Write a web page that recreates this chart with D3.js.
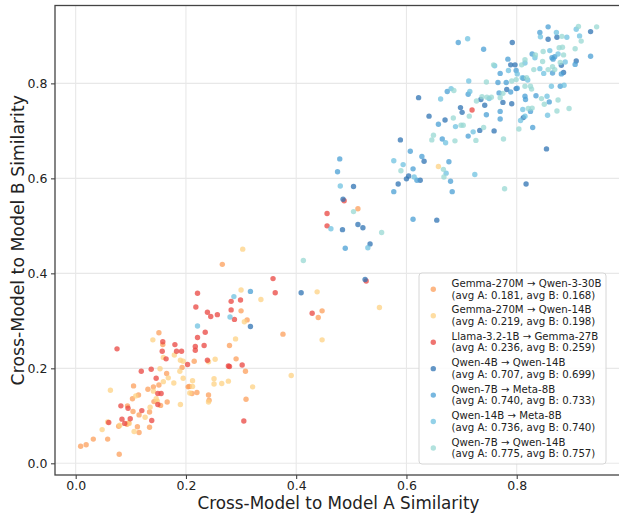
<!DOCTYPE html>
<html>
<head>
<meta charset="utf-8">
<script src="https://cdn.jsdelivr.net/npm/d3@7"></script>
<style>
  html, body { margin: 0; padding: 0; background: #fff; }
  svg { display: block; font-family: "DejaVu Sans", sans-serif; }
</style>
</head>
<body>
<div id="chart"></div>
<script>
// series names (legend text, two lines each)
const seriesNames = [
  "Gemma-270M \u2192 Qwen-3-30B",
  "Gemma-270M \u2192 Qwen-14B",
  "Llama-3.2-1B \u2192 Gemma-27B",
  "Qwen-4B \u2192 Qwen-14B",
  "Qwen-7B \u2192 Meta-8B",
  "Qwen-14B \u2192 Meta-8B",
  "Qwen-7B \u2192 Qwen-14B"
];
const seriesAvgs = [
  "(avg A: 0.181, avg B: 0.168)",
  "(avg A: 0.219, avg B: 0.198)",
  "(avg A: 0.236, avg B: 0.259)",
  "(avg A: 0.707, avg B: 0.699)",
  "(avg A: 0.740, avg B: 0.733)",
  "(avg A: 0.736, avg B: 0.740)",
  "(avg A: 0.775, avg B: 0.757)"
];
const seriesColors = ["#fc9f5b", "#fed283", "#ea4640", "#2f73b3", "#4a9fd4", "#6fc2e0", "#98d8d3"];

const xTicks = [0.0, 0.2, 0.4, 0.6, 0.8];
const yTicks = [0.0, 0.2, 0.4, 0.6, 0.8];

// [A similarity, B similarity]
const gemmaQwen30 = [
  [0.151,0.275],[0.158,0.250],[0.215,0.215],[0.193,0.202],[0.165,0.189],[0.105,0.163],
  [0.141,0.161],[0.151,0.165],[0.131,0.156],[0.204,0.161],[0.211,0.147],[0.220,0.149],
  [0.241,0.144],[0.242,0.133],[0.114,0.144],[0.103,0.136],[0.142,0.130],[0.166,0.129],
  [0.154,0.122],[0.094,0.121],[0.104,0.109],[0.115,0.102],[0.134,0.108],[0.096,0.085],
  [0.078,0.078],[0.112,0.077],[0.134,0.076],[0.115,0.065],[0.032,0.051],[0.058,0.051],
  [0.019,0.039],[0.009,0.036],[0.079,0.019],[0.266,0.419],[0.300,0.321],[0.311,0.302],
  [0.447,0.321],[0.440,0.307],[0.376,0.272],[0.279,0.248],[0.291,0.220],[0.308,0.194],
  [0.206,0.162],[0.309,0.135],[0.512,0.536],[0.093,0.082]
];
const gemmaQwen14 = [
  [0.140,0.260],[0.179,0.228],[0.159,0.223],[0.190,0.217],[0.195,0.215],[0.241,0.214],
  [0.253,0.219],[0.153,0.199],[0.189,0.194],[0.168,0.180],[0.159,0.172],[0.178,0.169],
  [0.195,0.179],[0.212,0.174],[0.251,0.178],[0.251,0.167],[0.265,0.168],[0.277,0.173],
  [0.141,0.152],[0.212,0.162],[0.207,0.148],[0.241,0.129],[0.063,0.154],[0.109,0.142],
  [0.146,0.136],[0.148,0.131],[0.190,0.124],[0.135,0.118],[0.126,0.097],[0.058,0.087],
  [0.097,0.084],[0.080,0.080],[0.048,0.071],[0.106,0.067],[0.303,0.451],[0.300,0.365],
  [0.336,0.345],[0.438,0.361],[0.551,0.328],[0.306,0.298],[0.447,0.260],[0.290,0.262],
  [0.391,0.185],[0.321,0.161],[0.658,0.625]
];
const llamaGemma27 = [
  [0.218,0.329],[0.239,0.318],[0.245,0.309],[0.257,0.313],[0.235,0.276],[0.158,0.256],
  [0.180,0.250],[0.221,0.265],[0.233,0.248],[0.075,0.241],[0.157,0.236],[0.183,0.236],
  [0.192,0.236],[0.217,0.238],[0.164,0.220],[0.203,0.208],[0.239,0.217],[0.277,0.205],
  [0.119,0.194],[0.137,0.198],[0.146,0.179],[0.149,0.147],[0.155,0.147],[0.149,0.124],
  [0.082,0.121],[0.095,0.116],[0.120,0.111],[0.084,0.093],[0.099,0.094],[0.138,0.090],
  [0.060,0.086],[0.089,0.084],[0.358,0.389],[0.362,0.359],[0.221,0.358],[0.282,0.341],
  [0.299,0.344],[0.527,0.384],[0.282,0.323],[0.288,0.303],[0.429,0.316],[0.279,0.204],
  [0.302,0.207],[0.305,0.089],[0.487,0.553],[0.456,0.526],[0.456,0.500],[0.719,0.744],
  [0.217,0.246]
];
const qwen4Qwen14 = [
  [0.317,0.288],[0.409,0.359],[0.525,0.387],[0.534,0.462],[0.655,0.512],[0.484,0.492],
  [0.512,0.503],[0.521,0.496],[0.485,0.556],[0.504,0.583],[0.585,0.588],[0.604,0.605],
  [0.600,0.599],[0.625,0.596],[0.817,0.588],[0.589,0.681],[0.632,0.636],[0.622,0.770],
  [0.641,0.731],[0.670,0.723],[0.698,0.749],[0.701,0.739],[0.733,0.701],[0.759,0.700],
  [0.742,0.754],[0.735,0.766],[0.775,0.760],[0.791,0.757],[0.782,0.787],[0.792,0.886],
  [0.857,0.893],[0.873,0.897],[0.934,0.909],[0.908,0.847],[0.789,0.839],[0.797,0.839],
  [0.881,0.838],[0.885,0.823],[0.812,0.811],[0.799,0.789],[0.812,0.728],[0.854,0.662]
];
const qwen7Meta8 = [
  [0.317,0.362],[0.489,0.453],[0.612,0.514],[0.475,0.614],[0.479,0.641],[0.577,0.572],
  [0.612,0.620],[0.619,0.596],[0.677,0.635],[0.680,0.594],[0.683,0.572],[0.607,0.657],
  [0.628,0.646],[0.658,0.714],[0.665,0.683],[0.712,0.689],[0.745,0.734],[0.770,0.741],
  [0.770,0.725],[0.768,0.780],[0.789,0.782],[0.801,0.790],[0.712,0.777],[0.674,0.783],
  [0.694,0.886],[0.740,0.872],[0.857,0.919],[0.842,0.907],[0.869,0.856],[0.864,0.854],
  [0.866,0.851],[0.934,0.857],[0.906,0.840],[0.828,0.862],[0.784,0.851],[0.799,0.827],
  [0.770,0.821],[0.881,0.820],[0.865,0.822],[0.781,0.802],[0.766,0.802],[0.815,0.773],
  [0.816,0.766],[0.835,0.774],[0.879,0.794],[0.859,0.761],[0.825,0.741],[0.829,0.707]
];
const qwen14Meta8 = [
  [0.221,0.289],[0.280,0.308],[0.287,0.351],[0.530,0.454],[0.463,0.494],[0.480,0.584],
  [0.577,0.637],[0.594,0.629],[0.614,0.603],[0.672,0.611],[0.724,0.608],[0.671,0.675],
  [0.662,0.767],[0.689,0.709],[0.721,0.698],[0.750,0.768],[0.715,0.783],[0.681,0.789],
  [0.711,0.894],[0.843,0.898],[0.872,0.907],[0.891,0.897],[0.908,0.914],[0.914,0.900],
  [0.860,0.869],[0.875,0.862],[0.888,0.845],[0.833,0.854],[0.815,0.843],[0.760,0.837],
  [0.801,0.820],[0.785,0.827],[0.842,0.831],[0.849,0.821],[0.810,0.812],[0.820,0.807],
  [0.713,0.805],[0.855,0.773],[0.863,0.794],[0.886,0.796],[0.856,0.733],[0.811,0.745],
  [0.815,0.731],[0.807,0.722]
];
const qwen7Qwen14 = [
  [0.413,0.427],[0.555,0.486],[0.504,0.530],[0.590,0.616],[0.667,0.619],[0.668,0.603],
  [0.778,0.578],[0.649,0.691],[0.646,0.681],[0.688,0.679],[0.685,0.727],[0.714,0.731],
  [0.699,0.712],[0.703,0.712],[0.726,0.680],[0.740,0.707],[0.776,0.683],[0.737,0.772],
  [0.727,0.763],[0.746,0.771],[0.754,0.771],[0.770,0.770],[0.775,0.779],[0.686,0.785],
  [0.882,0.899],[0.912,0.920],[0.945,0.919],[0.917,0.889],[0.877,0.875],[0.883,0.876],
  [0.906,0.873],[0.848,0.867],[0.885,0.860],[0.879,0.844],[0.834,0.860],[0.847,0.846],
  [0.815,0.850],[0.809,0.839],[0.758,0.839],[0.831,0.829],[0.857,0.829],[0.865,0.835],
  [0.869,0.829],[0.818,0.812],[0.799,0.808],[0.791,0.805],[0.745,0.803],[0.815,0.794],
  [0.825,0.794],[0.827,0.788],[0.845,0.768],[0.850,0.756],[0.875,0.765],[0.895,0.747],
  [0.873,0.742],[0.821,0.747],[0.828,0.748],[0.804,0.704]
];
const seriesPoints = [gemmaQwen30, gemmaQwen14, llamaGemma27, qwen4Qwen14, qwen7Meta8, qwen14Meta8, qwen7Qwen14];

// layout
const W = 619, H = 513;
const plot = { left: 55, right: 622, top: 5.5, bottom: 475 };

const svg = d3.select("#chart").append("svg")
  .attr("width", W)
  .attr("height", H);

const x = d3.scaleLinear().domain([-0.0375, 0.991]).range([plot.left, plot.right]);
const y = d3.scaleLinear().domain([-0.0246, 0.964]).range([plot.bottom, plot.top]);

// grid
const grid = svg.append("g");
grid.selectAll(".gx").data(xTicks).enter().append("line")
  .attr("x1", d => x(d)).attr("x2", d => x(d))
  .attr("y1", plot.top).attr("y2", plot.bottom)
  .attr("stroke", "#e8e8e8").attr("stroke-width", 1.1);
grid.selectAll(".gy").data(yTicks).enter().append("line")
  .attr("y1", d => y(d)).attr("y2", d => y(d))
  .attr("x1", plot.left).attr("x2", plot.right)
  .attr("stroke", "#e8e8e8").attr("stroke-width", 1.1);

// points
seriesPoints.forEach((pts, i) => {
  svg.append("g").selectAll("circle")
    .data(pts)
    .enter().append("circle")
    .attr("cx", d => x(d[0]))
    .attr("cy", d => y(d[1]))
    .attr("r", 2.7)
    .attr("fill", seriesColors[i])
    .attr("fill-opacity", 0.75);
});

// axes
const xAxis = svg.append("g")
  .attr("transform", `translate(0,${plot.bottom})`)
  .call(d3.axisBottom(x).tickValues(xTicks).tickFormat(d3.format(".1f")).tickSize(4).tickPadding(2));
const yAxis = svg.append("g")
  .attr("transform", `translate(${plot.left},0)`)
  .call(d3.axisLeft(y).tickValues(yTicks).tickFormat(d3.format(".1f")).tickSize(4).tickPadding(3.5));
[xAxis, yAxis].forEach(a => {
  a.select(".domain").remove();
  a.selectAll(".tick line").attr("stroke", "#333").attr("stroke-width", 1);
  a.selectAll(".tick text")
    .attr("fill", "#222")
    .style("font-size", "12.5px")
    .style("font-family", "DejaVu Sans, sans-serif");
});

// spines
svg.append("rect")
  .attr("x", plot.left).attr("y", plot.top)
  .attr("width", plot.right - plot.left).attr("height", plot.bottom - plot.top)
  .attr("fill", "none").attr("stroke", "#444").attr("stroke-width", 1.3);

// axis titles
svg.append("text")
  .attr("x", (plot.left + plot.right) / 2)
  .attr("y", 508.8)
  .attr("text-anchor", "middle")
  .style("font-size", "16.8px")
  .attr("fill", "#222")
  .text("Cross-Model to Model A Similarity");

svg.append("text")
  .attr("transform", `translate(24,${(plot.top + plot.bottom) / 2}) rotate(-90)`)
  .attr("text-anchor", "middle")
  .style("font-size", "17.3px")
  .attr("fill", "#222")
  .text("Cross-Model to Model B Similarity");

// legend
const legend = svg.append("g");
legend.append("rect")
  .attr("x", 419).attr("y", 273)
  .attr("width", 187).attr("height", 191)
  .attr("rx", 3)
  .attr("fill", "#fff").attr("fill-opacity", 0.85)
  .attr("stroke", "#d6d6d6").attr("stroke-width", 1);

seriesNames.forEach((name, i) => {
  const cy = 289.3 + i * 26.45;
  const row = legend.append("g");
  row.append("circle")
    .attr("cx", 433.3).attr("cy", cy).attr("r", 2.7)
    .attr("fill", seriesColors[i]).attr("fill-opacity", 0.75);
  row.append("text")
    .attr("x", 451.5).attr("y", cy - 2.4)
    .style("font-size", "10.2px").attr("fill", "#222")
    .text(name);
  row.append("text")
    .attr("x", 451.5).attr("y", cy + 9.2)
    .style("font-size", "10.2px").attr("fill", "#222")
    .text(seriesAvgs[i]);
});
</script>
</body>
</html>
